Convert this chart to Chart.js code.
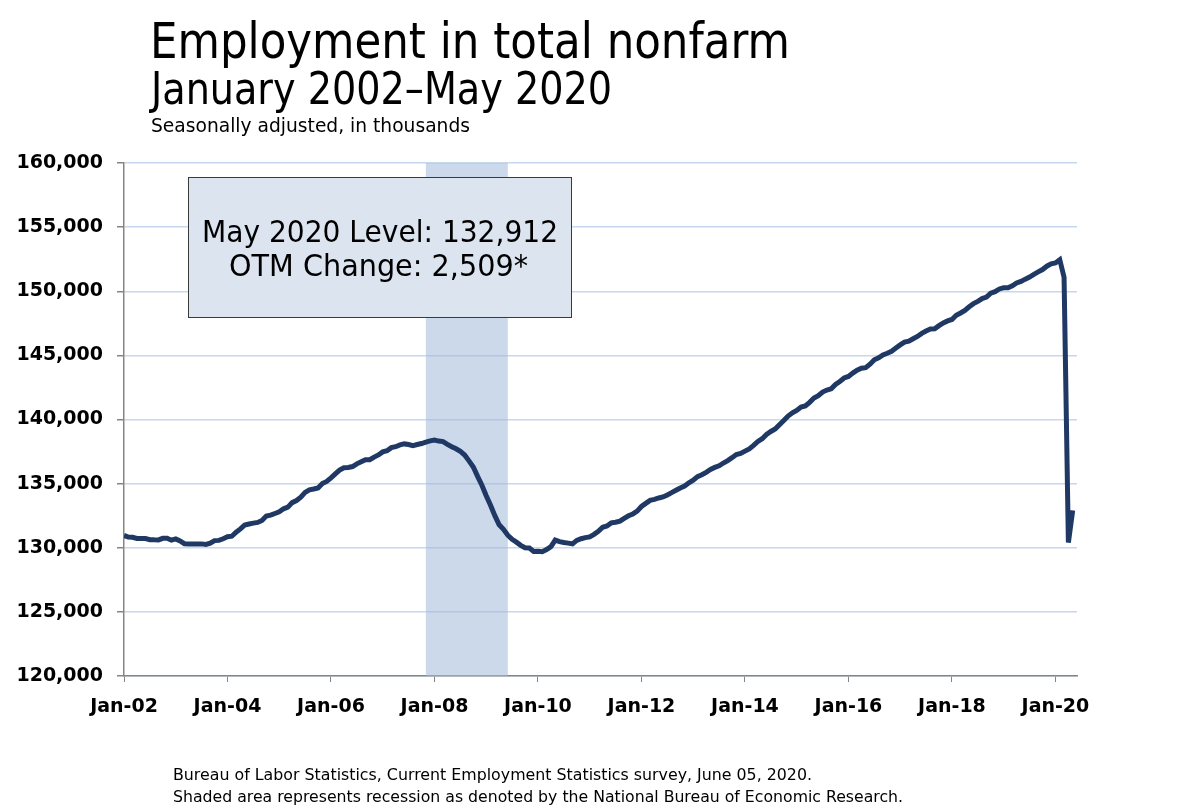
<!DOCTYPE html>
<html>
<head>
<meta charset="utf-8">
<title>Employment in total nonfarm</title>
<script src="https://cdn.jsdelivr.net/npm/chart.js@4.4.1/dist/chart.umd.min.js"></script>
<style>
  html, body { margin: 0; padding: 0; background: #fff; }
  canvas { display: block; }
</style>
</head>
<body>
<canvas id="nonfarm" width="1189" height="810"></canvas>
<script>
// Total nonfarm employment, seasonally adjusted, thousands (one array per year)
const y2002 = [130958, 130831, 130813, 130726, 130714, 130723, 130627, 130616, 130613, 130735, 130748, 130589];
const y2003 = [130685, 130526, 130313, 130302, 130286, 130284, 130301, 130259, 130358, 130557, 130575, 130698];
const y2004 = [130856, 130899, 131213, 131469, 131777, 131856, 131922, 131975, 132133, 132475, 132542, 132674];
const y2005 = [132799, 133038, 133161, 133518, 133683, 133943, 134313, 134518, 134582, 134666, 135006, 135166];
const y2006 = [135447, 135758, 136059, 136242, 136260, 136332, 136542, 136709, 136867, 136866, 137066, 137237];
const y2007 = [137475, 137560, 137807, 137881, 138024, 138097, 138050, 137961, 138047, 138124, 138239, 138330];
const y2008 = [138403, 138318, 138276, 138064, 137881, 137716, 137513, 137234, 136773, 136293, 135563, 134879];
const y2009 = [134062, 133312, 132505, 131794, 131444, 130978, 130652, 130435, 130188, 130000, 129979, 129713];
const y2010 = [129734, 129697, 129859, 130086, 130602, 130479, 130410, 130360, 130305, 130575, 130703, 130792];
const y2011 = [130850, 131047, 131281, 131598, 131696, 131938, 131987, 132080, 132298, 132493, 132637, 132852];
const y2012 = [133218, 133461, 133693, 133776, 133882, 133960, 134118, 134302, 134484, 134659, 134811, 135066];
const y2013 = [135262, 135548, 135690, 135880, 136105, 136266, 136388, 136607, 136796, 137022, 137269, 137351];
const y2014 = [137533, 137705, 137978, 138286, 138504, 138834, 139067, 139262, 139599, 139924, 140269, 140523];
const y2015 = [140709, 140973, 141058, 141338, 141671, 141857, 142143, 142294, 142393, 142733, 142963, 143237];
const y2016 = [143354, 143616, 143848, 143998, 144042, 144313, 144657, 144807, 145032, 145162, 145322, 145571];
const y2017 = [145816, 146030, 146103, 146294, 146475, 146714, 146892, 147050, 147068, 147315, 147531, 147690];
const y2018 = [147801, 148125, 148307, 148511, 148794, 149035, 149213, 149432, 149541, 149857, 149969, 150180];
const y2019 = [150272, 150276, 150429, 150645, 150767, 150944, 151109, 151316, 151508, 151693, 151954, 152138];
const y2020 = [152212, 152463, 151090, 130403, 132912];

const employment = [].concat(y2002, y2003, y2004, y2005, y2006, y2007, y2008, y2009, y2010,
  y2011, y2012, y2013, y2014, y2015, y2016, y2017, y2018, y2019, y2020);

// month index 0 = Jan 2002
const xTickIdx = [0, 24, 48, 72, 96, 120, 144, 168, 192, 216];
const xTickLabels = ['Jan-02', 'Jan-04', 'Jan-06', 'Jan-08', 'Jan-10', 'Jan-12', 'Jan-14', 'Jan-16', 'Jan-18', 'Jan-20'];
const yTicks = [120000, 125000, 130000, 135000, 140000, 145000, 150000, 155000, 160000];
// recession shading, in month slots (NBER Dec 2007 - Jun 2009)
const recession = [70, 89];

const titleLines = ['Employment in total nonfarm', 'January 2002\u2013May 2020', 'Seasonally adjusted, in thousands'];
const boxLines = ['May 2020 Level: 132,912', 'OTM Change: 2,509*'];
const footLines = ['Bureau of Labor Statistics, Current Employment Statistics survey, June 05, 2020.',
  'Shaded area represents recession as denoted by the National Bureau of Economic Research.'];

const points = employment.map((v, i) => ({ x: i, y: v }));

// draws text squeezed to an exact width (the original uses Tahoma)
function fitText(ctx, text, x, y, size, width) {
  ctx.save();
  ctx.font = size + 'px "DejaVu Sans", sans-serif';
  ctx.textAlign = 'left';
  ctx.textBaseline = 'alphabetic';
  const w = ctx.measureText(text).width;
  ctx.translate(x, y);
  ctx.scale(width / w, 1);
  ctx.fillText(text, 0, 0);
  ctx.restore();
}

const recessionShade = {
  id: 'recessionShade',
  beforeDatasetsDraw(chart) {
    const { ctx, chartArea, scales } = chart;
    const x0 = scales.x.getPixelForValue(recession[0]);
    const x1 = scales.x.getPixelForValue(recession[1]);
    ctx.save();
    ctx.fillStyle = 'rgba(160, 186, 218, 0.55)';
    ctx.fillRect(x0, chartArea.top, x1 - x0, chartArea.bottom - chartArea.top);
    ctx.restore();
  }
};

const texts = {
  id: 'texts',
  afterDraw(chart) {
    const ctx = chart.ctx;
    ctx.fillStyle = '#000';
    fitText(ctx, titleLines[0], 150, 58, 50, 640);
    fitText(ctx, titleLines[1], 151, 104, 44, 461);
    fitText(ctx, titleLines[2], 151, 132, 19, 319);

    // level box
    ctx.save();
    ctx.fillStyle = '#dce4ef';
    ctx.fillRect(188.5, 177.5, 383, 140);
    ctx.strokeStyle = '#3a3a3a';
    ctx.lineWidth = 1;
    ctx.strokeRect(188.5, 177.5, 383, 140);
    ctx.restore();
    ctx.fillStyle = '#000';
    fitText(ctx, boxLines[0], 202, 242, 31, 356);
    fitText(ctx, boxLines[1], 229, 276, 31, 299);

    fitText(ctx, footLines[0], 173, 780, 15, 639);
    fitText(ctx, footLines[1], 173, 802, 15, 730);
  }
};

const ctx = document.getElementById('nonfarm').getContext('2d');

new Chart(ctx, {
  type: 'line',
  data: {
    datasets: [{
      label: 'Total nonfarm',
      data: points,
      borderColor: '#1f3864',
      borderWidth: 5,
      pointRadius: 0,
      tension: 0,
      fill: false
    }]
  },
  options: {
    responsive: false,
    animation: false,
    layout: { padding: { top: 163, right: 112, bottom: 0, left: 0 } },
    plugins: {
      legend: { display: false },
      tooltip: { enabled: false },
      title: { display: false }
    },
    scales: {
      x: {
        type: 'linear',
        min: 0,
        max: 221,
        afterBuildTicks: scale => { scale.ticks = xTickIdx.map(v => ({ value: v })); },
        afterFit: scale => { scale.height = 134; },
        ticks: {
          autoSkip: false,
          maxRotation: 0,
          padding: 14,
          color: '#000',
          font: { family: '"DejaVu Sans", Verdana, sans-serif', size: 19, weight: 'bold' },
          callback: value => xTickLabels[xTickIdx.indexOf(value)]
        },
        grid: {
          drawOnChartArea: false,
          drawTicks: true,
          tickLength: 6,
          tickColor: '#858585'
        },
        border: { display: true, color: '#858585', width: 1.5 }
      },
      y: {
        min: 120000,
        max: 160000,
        afterBuildTicks: scale => { scale.ticks = yTicks.map(v => ({ value: v })); },
        afterFit: scale => { scale.width = 124; },
        ticks: {
          padding: 14,
          color: '#000',
          font: { family: '"DejaVu Sans", Verdana, sans-serif', size: 19, weight: 'bold' },
          callback: value => value.toLocaleString('en-US')
        },
        grid: {
          color: '#c6d7ee',
          lineWidth: 1.5,
          tickLength: 7,
          tickColor: '#858585'
        },
        border: { display: true, color: '#858585', width: 1.5 }
      }
    }
  },
  plugins: [recessionShade, texts]
});
</script>
</body>
</html>
